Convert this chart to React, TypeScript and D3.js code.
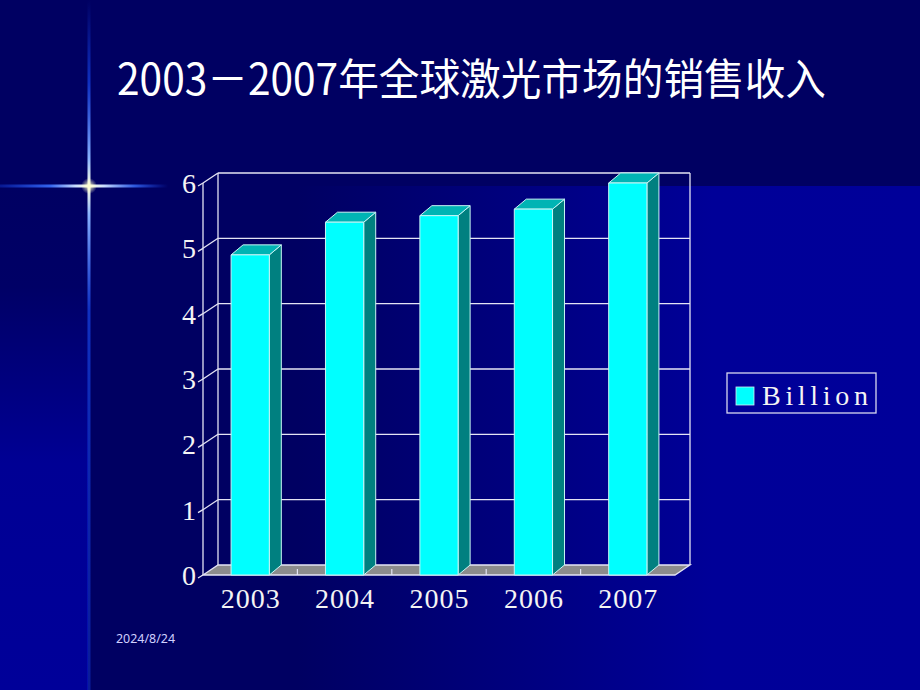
import React from "react";
import * as d3 from "d3";

const years = ["2003", "2004", "2005", "2006", "2007"];
const revenue = [4.9, 5.4, 5.5, 5.6, 6.0];
const yTicks = [0, 1, 2, 3, 4, 5, 6];
const seriesName = "Billion";
const titleText = "2003－2007年全球激光市场的销售收入";
const dateText = "2024/8/24";

const W = 920;
const H = 690;

export default function App() {
  const x = d3.scaleBand<string>().domain(years).range([203, 675]).padding(0);
  const y = d3.scaleLinear().domain([0, 6]).range([575, 183]);
  const DX = 15, DY = -10; // wall depth
  const BDX = 12, BDY = -10; // bar depth
  const barW = x.bandwidth() * 0.405;
  const grid = "#e4e4f4";
  const y0 = y(0);
  const xl = x.range()[0];
  const xr = x.range()[1];

  const pts = (a: [number, number][]) => a.map((p) => p.join(",")).join(" ");

  return (
    <svg width={W} height={H} style={{ position: "absolute", left: 0, top: 0 }}
      xmlns="http://www.w3.org/2000/svg">
      <defs>
        <linearGradient id="rightBg" x1="0" x2="1" y1="0" y2="0">
          <stop offset="0" stopColor="#000062" />
          <stop offset="0.25" stopColor="#000062" />
          <stop offset="0.75" stopColor="#000098" />
          <stop offset="1" stopColor="#000099" />
        </linearGradient>
        <linearGradient id="leftBg" x1="0" x2="0" y1="0" y2="1">
          <stop offset="0" stopColor="#000062" />
          <stop offset="0.2" stopColor="#000066" />
          <stop offset="0.55" stopColor="#000094" />
          <stop offset="1" stopColor="#000099" />
        </linearGradient>
        <linearGradient id="vGlow" x1="0" x2="0" y1="0" y2="1">
          <stop offset="0" stopColor="#1a50ff" stopOpacity="0" />
          <stop offset="0.12" stopColor="#1a50ff" stopOpacity="0.6" />
          <stop offset="0.23" stopColor="#8ab4ff" stopOpacity="1" />
          <stop offset="0.27" stopColor="#ffffe0" stopOpacity="1" />
          <stop offset="0.31" stopColor="#8ab4ff" stopOpacity="1" />
          <stop offset="0.45" stopColor="#1a50ff" stopOpacity="0.6" />
          <stop offset="1" stopColor="#1a50ff" stopOpacity="0.35" />
        </linearGradient>
        <linearGradient id="hGlow" x1="0" x2="1" y1="0" y2="0">
          <stop offset="0" stopColor="#1a50ff" stopOpacity="0.3" />
          <stop offset="0.3" stopColor="#3a70ff" stopOpacity="0.9" />
          <stop offset="0.45" stopColor="#c8dcff" stopOpacity="1" />
          <stop offset="0.53" stopColor="#ffffe0" stopOpacity="1" />
          <stop offset="0.62" stopColor="#c8dcff" stopOpacity="1" />
          <stop offset="0.8" stopColor="#3a70ff" stopOpacity="0.8" />
          <stop offset="1" stopColor="#1a50ff" stopOpacity="0" />
        </linearGradient>
        <radialGradient id="centerGlow">
          <stop offset="0" stopColor="#ffffd0" stopOpacity="1" />
          <stop offset="1" stopColor="#ffffd0" stopOpacity="0" />
        </radialGradient>
      </defs>

      {/* background */}
      <rect x={0} y={0} width={W} height={H} fill="#000062" />
      <rect x={90} y={186} width={W - 90} height={H - 186} fill="url(#rightBg)" />
      <rect x={0} y={186} width={88} height={H - 186} fill="url(#leftBg)" />

      {/* glow cross */}
      <rect x={87.5} y={0} width={3} height={H} fill="url(#vGlow)" />
      <rect x={0} y={184.5} width={168} height={3} fill="url(#hGlow)" />
      <circle cx={89} cy={186} r={8} fill="url(#centerGlow)" />

      {/* title */}
      <text x={117} y={95} fill="#ffffff" fontFamily="'Noto Sans CJK SC', 'Noto Sans', sans-serif"
        fontSize={43} textLength={709} lengthAdjust="spacingAndGlyphs">{titleText}</text>

      {/* back wall gridlines and side wall */}
      <g stroke={grid} strokeWidth={1.3} fill="none">
        {yTicks.map((t) => (
          <g key={t}>
            {t > 0 && <line x1={xl + DX} x2={xr + DX} y1={y(t) + DY} y2={y(t) + DY} />}
            {t > 0 && <line x1={xl} x2={xl + DX} y1={y(t)} y2={y(t) + DY} />}
            <line x1={xl - 5} x2={xl} y1={y(t) + 3} y2={y(t)} />
          </g>
        ))}
        <line x1={xl} x2={xl} y1={y(6)} y2={y0} />
        <line x1={xl + DX} x2={xl + DX} y1={y(6) + DY} y2={y0 + DY} />
        <line x1={xr + DX} x2={xr + DX} y1={y(6) + DY} y2={y0 + DY} />
      </g>

      {/* floor */}
      <polygon
        points={pts([[xl, y0], [xr, y0], [xr + DX, y0 + DY], [xl + DX, y0 + DY]])}
        fill="#8c8c8c" stroke={grid} strokeWidth={1.3} />
      <g stroke={grid} strokeWidth={1.2}>
        {years.slice(1).map((yr) => (
          <line key={yr} x1={x(yr)!} x2={x(yr)!} y1={y0} y2={y0 - 6} />
        ))}
      </g>

      {/* bars */}
      {years.map((yr, i) => {
        const cx = x(yr)! + x.bandwidth() / 2;
        const x0 = cx - barW / 2;
        const x1 = cx + barW / 2;
        const yt = y(revenue[i]);
        return (
          <g key={yr} stroke="#c8f4f4" strokeWidth={1} strokeLinejoin="round">
            <polygon points={pts([[x1, yt], [x1 + BDX, yt + BDY], [x1 + BDX, y0 + BDY], [x1, y0]])}
              fill="#008080" />
            <polygon points={pts([[x0, yt], [x0 + BDX, yt + BDY], [x1 + BDX, yt + BDY], [x1, yt]])}
              fill="#00b4b4" />
            <rect x={x0} y={yt} width={x1 - x0} height={y0 - yt} fill="#00ffff" />
          </g>
        );
      })}

      {/* axis labels */}
      <g fill="#f4f4f4" fontFamily="'Liberation Serif', 'DejaVu Serif', serif" fontSize={28}>
        {yTicks.map((t) => (
          <text key={t} x={xl - 7} y={y(t) + 10} textAnchor="end">{t}</text>
        ))}
        {years.map((yr) => (
          <text key={yr} x={x(yr)! + x.bandwidth() / 2} y={608} textAnchor="middle"
            textLength={59} lengthAdjust="spacing">{yr}</text>
        ))}
      </g>

      {/* legend */}
      <rect x={727} y={373} width={149} height={40} fill="none" stroke="#d8d8f0" strokeWidth={1.3} />
      <rect x={736} y={387} width={18} height={18} fill="#00ffff" stroke="#d0f0f0" strokeWidth={0.8} />
      <text x={762} y={405} fill="#f4f4f4" fontFamily="'Liberation Serif', 'DejaVu Serif', serif"
        fontSize={28} textLength={106} lengthAdjust="spacing">{seriesName}</text>

      {/* date */}
      <text x={116} y={643} fill="#d0d0ff" fontFamily="'Noto Sans', 'DejaVu Sans', sans-serif"
        fontSize={13} textLength={59} lengthAdjust="spacingAndGlyphs">{dateText}</text>
    </svg>
  );
}
